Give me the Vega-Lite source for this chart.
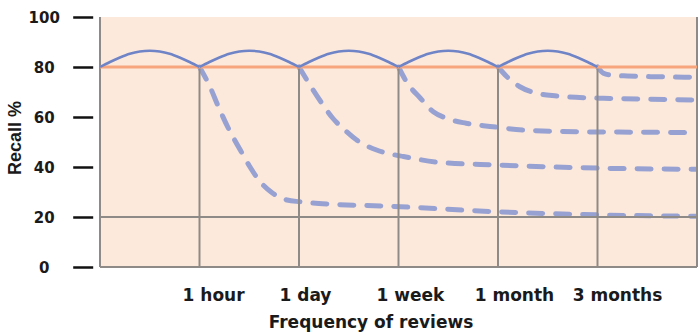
{
  "$schema": "https://vega.github.io/schema/vega-lite/v6.json",
  "width": 597,
  "height": 250,
  "autosize": "none",
  "padding": {"left": 100, "top": 17, "right": 1, "bottom": 65},
  "background": "white",
  "config": {"view": {"fill": "#fde9dc", "stroke": null}},
  "datasets": {
    "borders": [{"x": 0}, {"x": 6}],
    "grid": [{"x": 1}, {"x": 2}, {"x": 3}, {"x": 4}, {"x": 5}],
    "hlines": [{"y": 0}, {"y": 20}],
    "target": [{"y": 80}],
    "arcs": [
      {"series": "a1", "x": 0.0, "y": 80},
      {"series": "a1", "x": 0.1, "y": 82.0},
      {"series": "a1", "x": 0.2, "y": 83.8},
      {"series": "a1", "x": 0.3, "y": 85.3},
      {"series": "a1", "x": 0.4, "y": 86.2},
      {"series": "a1", "x": 0.5, "y": 86.5},
      {"series": "a1", "x": 0.6, "y": 86.2},
      {"series": "a1", "x": 0.7, "y": 85.3},
      {"series": "a1", "x": 0.8, "y": 83.8},
      {"series": "a1", "x": 0.9, "y": 82.0},
      {"series": "a1", "x": 1.0, "y": 80},
      {"series": "a2", "x": 1.0, "y": 80},
      {"series": "a2", "x": 1.1, "y": 82.0},
      {"series": "a2", "x": 1.2, "y": 83.8},
      {"series": "a2", "x": 1.3, "y": 85.3},
      {"series": "a2", "x": 1.4, "y": 86.2},
      {"series": "a2", "x": 1.5, "y": 86.5},
      {"series": "a2", "x": 1.6, "y": 86.2},
      {"series": "a2", "x": 1.7, "y": 85.3},
      {"series": "a2", "x": 1.8, "y": 83.8},
      {"series": "a2", "x": 1.9, "y": 82.0},
      {"series": "a2", "x": 2.0, "y": 80},
      {"series": "a3", "x": 2.0, "y": 80},
      {"series": "a3", "x": 2.1, "y": 82.0},
      {"series": "a3", "x": 2.2, "y": 83.8},
      {"series": "a3", "x": 2.3, "y": 85.3},
      {"series": "a3", "x": 2.4, "y": 86.2},
      {"series": "a3", "x": 2.5, "y": 86.5},
      {"series": "a3", "x": 2.6, "y": 86.2},
      {"series": "a3", "x": 2.7, "y": 85.3},
      {"series": "a3", "x": 2.8, "y": 83.8},
      {"series": "a3", "x": 2.9, "y": 82.0},
      {"series": "a3", "x": 3.0, "y": 80},
      {"series": "a4", "x": 3.0, "y": 80},
      {"series": "a4", "x": 3.1, "y": 82.0},
      {"series": "a4", "x": 3.2, "y": 83.8},
      {"series": "a4", "x": 3.3, "y": 85.3},
      {"series": "a4", "x": 3.4, "y": 86.2},
      {"series": "a4", "x": 3.5, "y": 86.5},
      {"series": "a4", "x": 3.6, "y": 86.2},
      {"series": "a4", "x": 3.7, "y": 85.3},
      {"series": "a4", "x": 3.8, "y": 83.8},
      {"series": "a4", "x": 3.9, "y": 82.0},
      {"series": "a4", "x": 4.0, "y": 80},
      {"series": "a5", "x": 4.0, "y": 80},
      {"series": "a5", "x": 4.1, "y": 82.0},
      {"series": "a5", "x": 4.2, "y": 83.8},
      {"series": "a5", "x": 4.3, "y": 85.3},
      {"series": "a5", "x": 4.4, "y": 86.2},
      {"series": "a5", "x": 4.5, "y": 86.5},
      {"series": "a5", "x": 4.6, "y": 86.2},
      {"series": "a5", "x": 4.7, "y": 85.3},
      {"series": "a5", "x": 4.8, "y": 83.8},
      {"series": "a5", "x": 4.9, "y": 82.0},
      {"series": "a5", "x": 5.0, "y": 80}
    ],
    "decays": [
      {"series": "d1", "x": 1.0, "y": 80},
      {"series": "d1", "x": 1.105, "y": 72.1},
      {"series": "d1", "x": 1.19, "y": 64.1},
      {"series": "d1", "x": 1.29, "y": 55.5},
      {"series": "d1", "x": 1.41, "y": 46.8},
      {"series": "d1", "x": 1.5, "y": 40.5},
      {"series": "d1", "x": 1.6, "y": 34.6},
      {"series": "d1", "x": 1.72, "y": 30.0},
      {"series": "d1", "x": 1.88, "y": 26.8},
      {"series": "d1", "x": 2.01, "y": 26.1},
      {"series": "d1", "x": 2.34, "y": 25.1},
      {"series": "d1", "x": 2.91, "y": 24.3},
      {"series": "d1", "x": 3.99, "y": 22.1},
      {"series": "d1", "x": 5.06, "y": 20.8},
      {"series": "d1", "x": 6.0, "y": 20.3},
      {"series": "d2", "x": 2.0, "y": 80},
      {"series": "d2", "x": 2.11, "y": 72.8},
      {"series": "d2", "x": 2.23, "y": 65.5},
      {"series": "d2", "x": 2.34, "y": 59.5},
      {"series": "d2", "x": 2.46, "y": 54.8},
      {"series": "d2", "x": 2.58, "y": 50.8},
      {"series": "d2", "x": 2.78, "y": 46.8},
      {"series": "d2", "x": 2.91, "y": 45.3},
      {"series": "d2", "x": 3.05, "y": 44.2},
      {"series": "d2", "x": 3.42, "y": 41.8},
      {"series": "d2", "x": 3.99, "y": 40.8},
      {"series": "d2", "x": 5.06, "y": 39.5},
      {"series": "d2", "x": 6.0, "y": 39.1},
      {"series": "d3", "x": 3.0, "y": 80},
      {"series": "d3", "x": 3.08, "y": 74.1},
      {"series": "d3", "x": 3.22, "y": 67.5},
      {"series": "d3", "x": 3.35, "y": 62.1},
      {"series": "d3", "x": 3.48, "y": 59.5},
      {"series": "d3", "x": 3.68, "y": 57.5},
      {"series": "d3", "x": 3.95, "y": 56.1},
      {"series": "d3", "x": 4.25, "y": 54.8},
      {"series": "d3", "x": 4.79, "y": 54.1},
      {"series": "d3", "x": 5.5, "y": 53.9},
      {"series": "d3", "x": 6.0, "y": 53.7},
      {"series": "d4", "x": 4.0, "y": 80},
      {"series": "d4", "x": 4.09, "y": 76.1},
      {"series": "d4", "x": 4.22, "y": 72.1},
      {"series": "d4", "x": 4.39, "y": 69.5},
      {"series": "d4", "x": 4.59, "y": 68.4},
      {"series": "d4", "x": 4.86, "y": 67.7},
      {"series": "d4", "x": 5.06, "y": 67.5},
      {"series": "d4", "x": 5.5, "y": 67.1},
      {"series": "d4", "x": 6.0, "y": 66.8},
      {"series": "d5", "x": 5.0, "y": 80},
      {"series": "d5", "x": 5.06, "y": 77.5},
      {"series": "d5", "x": 5.13, "y": 76.8},
      {"series": "d5", "x": 5.3, "y": 76.4},
      {"series": "d5", "x": 5.6, "y": 76.1},
      {"series": "d5", "x": 6.0, "y": 75.9}
    ]
  },
  "layer": [
    {
      "data": {"name": "decays"},
      "mark": {"type": "line", "interpolate": "monotone", "stroke": "#97a2d2", "strokeWidth": 5, "strokeDash": [14, 13], "strokeCap": "round"},
      "encoding": {
        "x": {
          "field": "x", "type": "quantitative",
          "scale": {"domain": [0, 6], "nice": false, "zero": false},
          "axis": {
            "values": [1.136, 2.06, 3.115, 4.16, 5.196],
            "labelExpr": "datum.value < 1.5 ? '1 hour' : datum.value < 2.5 ? '1 day' : datum.value < 3.5 ? '1 week' : datum.value < 4.5 ? '1 month' : '3 months'",
            "ticks": false, "tickSize": 0, "domain": false, "grid": false,
            "labelFont": "DejaVu Sans", "labelFontWeight": "bold", "labelFontSize": 17, "labelColor": "#1a1a1a",
            "labelBaseline": "alphabetic", "labelPadding": 33.5, "labelAlign": "center",
            "labelFlush": false, "labelOverlap": false,
            "title": "Frequency of reviews", "titleFont": "DejaVu Sans", "titleFontSize": 17, "titleFontWeight": "bold",
            "titleColor": "#1a1a1a", "titleX": 270.5, "titleY": 60, "titleBaseline": "alphabetic", "titleAlign": "center"
          }
        },
        "y": {
          "field": "y", "type": "quantitative",
          "scale": {"domain": [0, 100], "nice": false},
          "axis": {
            "values": [0, 20, 40, 60, 80, 100],
            "offset": 7.3, "tickSize": 20, "tickWidth": 2.5, "tickColor": "#111111",
            "domain": false, "grid": false,
            "labelFont": "DejaVu Sans", "labelFontWeight": "bold", "labelFontSize": 15, "labelColor": "#1a1a1a",
            "labelAlign": "center", "labelBaseline": "middle", "labelPadding": 29, "labelDy": -1, "labelFlush": false,
            "title": "Recall %", "titleFont": "Liberation Sans", "titleFontSize": 18, "titleFontWeight": "bold",
            "titleColor": "#1a1a1a", "titleX": -77.7, "titleY": 120.5, "titleAngle": 270,
            "titleBaseline": "middle", "titleAlign": "center"
          }
        },
        "detail": {"field": "series"}
      }
    },
    {
      "data": {"name": "borders"},
      "mark": {"type": "rule", "color": "#8e8a87", "strokeWidth": 2},
      "encoding": {
        "x": {"field": "x", "type": "quantitative", "title": "Frequency of reviews"},
        "y": {"datum": 0}, "y2": {"datum": 100}
      }
    },
    {
      "data": {"name": "grid"},
      "mark": {"type": "rule", "color": "#8e8a87", "strokeWidth": 2},
      "encoding": {
        "x": {"field": "x", "type": "quantitative", "title": "Frequency of reviews"},
        "y": {"datum": 0}, "y2": {"datum": 80}
      }
    },
    {
      "data": {"name": "hlines"},
      "mark": {"type": "rule", "color": "#8e8a87", "strokeWidth": 2},
      "encoding": {
        "y": {"field": "y", "type": "quantitative", "title": "Recall %"},
        "x": {"datum": 0}, "x2": {"datum": 6}
      }
    },
    {
      "data": {"name": "target"},
      "mark": {"type": "rule", "color": "#f6a57d", "strokeWidth": 3},
      "encoding": {
        "y": {"field": "y", "type": "quantitative", "title": "Recall %"},
        "x": {"datum": 0}, "x2": {"datum": 6}
      }
    },
    {
      "data": {"name": "arcs"},
      "mark": {"type": "line", "interpolate": "monotone", "stroke": "#6f84c6", "strokeWidth": 2.5},
      "encoding": {
        "x": {"field": "x", "type": "quantitative", "title": "Frequency of reviews"},
        "y": {"field": "y", "type": "quantitative", "title": "Recall %"},
        "detail": {"field": "series"}
      }
    }
  ]
}
